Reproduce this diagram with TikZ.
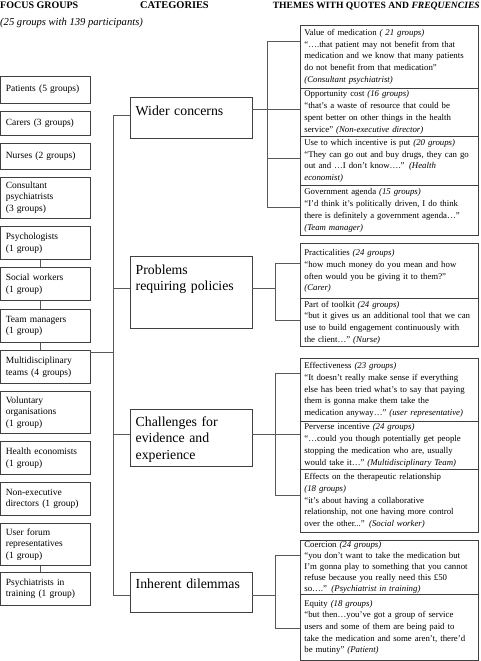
\documentclass[tikz,border=0pt]{standalone}
\usepackage{fontspec}
\setmainfont{Liberation Serif}
\usetikzlibrary{calc}

\tikzset{
  fgbox/.style={draw=black!75, line width=0.7pt, anchor=north west, text width=79pt,
    inner xsep=5pt, inner ysep=0pt, align=left, font=\fontsize{9.5}{11.7}\selectfont},
  catbox/.style={draw=black!75, line width=0.7pt, anchor=north west, text width=111pt,
    inner xsep=5.35pt, inner ysep=0pt, align=left, font=\fontsize{13.8}{16.7}\selectfont},
  themebox/.style={draw=black!75, line width=0.7pt, anchor=north west, text width=170pt,
    inner xsep=4pt, inner ysep=0pt, align=left, font=\fontsize{8.8}{11.7}\selectfont},
  link/.style={draw=black!65, line width=0.7pt},
  head/.style={anchor=base west, inner sep=0pt, font=\fontsize{10}{12}\selectfont\bfseries}
}

\begin{document}
\begin{tikzpicture}[x=1pt,y=-1pt]
\useasboundingbox (0,0) rectangle (480,661);

% headings
\node[head] (hfocus) at (0,8.5) {FOCUS GROUPS};
\node[head, font=\fontsize{10.6}{12}\selectfont\itshape] (hsub) at (0,25.5) {(25 groups with 139 participants)};
\node[head, font=\fontsize{10.4}{12}\selectfont\bfseries] (hcat) at (140,8.5) {CATEGORIES};
\node[head, anchor=base east, font=\fontsize{9.6}{12}\selectfont\bfseries] (htheme) at (480,8.5) {THEMES WITH QUOTES AND \textit{FREQUENCIES}};

% focus groups
\node[fgbox, minimum height=26.7] (pat) at (0.5,76) {Patients (5 groups)};
\node[fgbox, minimum height=24.3] (car) at (0.5,110.7) {Carers (3 groups)};
\node[fgbox, minimum height=25.7] (nur) at (0.5,143) {Nurses (2 groups)};
\node[fgbox, minimum height=41.3] (cons) at (0.5,176.7) {Consultant\\psychiatrists\\(3 groups)};
\node[fgbox, minimum height=33.3] (psy) at (0.5,226) {Psychologists\\(1 group)};
\node[fgbox, minimum height=32.7] (soc) at (0.5,267.3) {Social workers\\(1 group)};
\node[fgbox, minimum height=32.7] (team) at (0.5,309.3) {Team managers\\(1 group)};
\node[fgbox, minimum height=33.3] (multi) at (0.5,350) {Multidisciplinary\\teams (4 groups)};
\node[fgbox, minimum height=42] (vol) at (0.5,391.3) {Voluntary\\organisations\\(1 group)};
\node[fgbox, minimum height=32.7] (econ) at (0.5,441.3) {Health economists\\(1 group)};
\node[fgbox, minimum height=33.3] (nonex) at (0.5,482) {Non-executive\\directors (1 group)};
\node[fgbox, minimum height=42] (user) at (0.5,523.3) {User forum\\representatives\\(1 group)};
\node[fgbox, minimum height=32.7] (train) at (0.5,572) {Psychiatrists in\\training (1 group)};

% categories
\node[catbox, text height=18pt, text depth=23pt] (wider) at (130,97.3) {Wider concerns};
\node[catbox, text height=18pt, text depth=54.3pt] (probl) at (130,255.7) {Problems\\requiring policies};
\node[catbox, text height=16.5pt, text depth=40.2pt] (chall) at (130,409.3) {Challenges for\\evidence and\\experience};
\node[catbox, text height=16.5pt, text depth=24.1pt] (inher) at (130,571.7) {Inherent dilemmas};

% themes
\node[themebox, minimum height=63] (value) at (300,25) {Value of medication \textit{( 21 groups)}\\
  “….that patient may not benefit from that\\
  medication and we know that many patients\\
  do not benefit from that medication”\\
  \textit{(Consultant psychiatrist)}};
\node[themebox, minimum height=48] (opp) at (300,88) {Opportunity cost \textit{(16 groups)}\\
  “that’s a waste of resource that could be\\
  spent better on other things in the health\\
  service” \textit{(Non-executive director)}};
\node[themebox, minimum height=49] (use) at (300,136) {Use to which incentive is put \textit{(20 groups)}\\
  “They can go out and buy drugs, they can go\\
  out and …I don’t know….” \textit{(Health}\\
  \textit{economist)}};
\node[themebox, minimum height=50] (gov) at (300,185) {Government agenda \textit{(15 groups)}\\
  “I’d think it’s politically driven, I do think\\
  there is definitely a government agenda…”\\
  \textit{(Team manager)}};
\node[themebox, minimum height=55] (pract) at (300,243.3) {Practicalities \textit{(24 groups)}\\
  “how much money do you mean and how\\
  often would you be giving it to them?”\\
  \textit{(Carer)}};
\node[themebox, minimum height=48] (tool) at (300,298.3) {Part of toolkit \textit{(24 groups)}\\
  “but it gives us an additional tool that we can\\
  use to build engagement continuously with\\
  the client…” \textit{(Nurse)}};
\node[themebox, minimum height=63] (effect) at (300,358) {Effectiveness \textit{(23 groups)}\\
  “It doesn’t really make sense if everything\\
  else has been tried what’s to say that paying\\
  them is gonna make them take the\\
  medication anyway…” \textit{(user representative)}};
\node[themebox, minimum height=48] (perv) at (300,421) {Perverse incentive \textit{(24 groups)}\\
  “…could you though potentially get people\\
  stopping the medication who are, usually\\
  would take it…” \textit{(Multidisciplinary Team)}};
\node[themebox, minimum height=63] (therap) at (300,469) {Effects on the therapeutic relationship\\
  \textit{(18 groups)}\\
  “it’s about having a collaborative\\
  relationship, not one having more control\\
  over the other...” \textit{(Social worker)}};
\node[themebox, minimum height=54, font=\fontsize{8.8}{11}\selectfont] (coerc) at (300,540) {Coercion \textit{(24 groups)}\\
  “you don’t want to take the medication but\\
  I’m gonna play to something that you cannot\\
  refuse because you really need this £50\\
  so….” \textit{(Psychiatrist in training)}};
\node[themebox, minimum height=66] (equity) at (300,594) {Equity \textit{(18 groups)}\\
  “but then…you’ve got a group of service\\
  users and some of them are being paid to\\
  take the medication and some aren’t, there’d\\
  be mutiny” \textit{(Patient)}};

% focus group links
\coordinate (lc) at (40.7,0);
\draw[link] (psy.south -| lc) -- (soc.north -| lc);
\draw[link] (soc.south -| lc) -- (team.north -| lc);
\draw[link] (team.south -| lc) -- (multi.north -| lc);
\draw[link] (user.south -| lc) -- (train.north -| lc);

% trunk to categories
\coordinate (tw) at (113.3,115);
\coordinate (tp) at (113.3,288.3);
\coordinate (tc) at (113.3,434.3);
\coordinate (ti) at (113.3,595);
\coordinate (tm) at (113.3,352.3);
\draw[link] (tw) -- (ti);
\draw[link] (multi.east |- tm) -- (tm);
\draw[link] (tw) -- (tw -| wider.west);
\draw[link] (tp) -- (tp -| probl.west);
\draw[link] (tc) -- (tc -| chall.west);
\draw[link] (ti) -- (ti -| inher.west);

% wider concerns
\coordinate (w0) at (267,41.7);
\coordinate (w1) at (267,109.3);
\coordinate (w2) at (267,158.3);
\coordinate (w3) at (267,207.3);
\draw[link] (w0) -- (w3);
\draw[link] (w0) -- (w0 -| value.west);
\draw[link] (w1 -| wider.east) -- (w1 -| opp.west);
\draw[link] (w2) -- (w2 -| use.west);
\draw[link] (w3) -- (w3 -| gov.west);

% problems requiring policies
\coordinate (p1) at (275,263.3);
\coordinate (p2) at (275,288.3);
\coordinate (p3) at (275,320);
\draw[link] (p1) -- (p3);
\draw[link] (p1) -- (p1 -| pract.west);
\draw[link] (p3) -- (p3 -| tool.west);
\draw[link] (p2 -| probl.east) -- (p2);

% challenges
\coordinate (c1) at (275,373.3);
\coordinate (c2) at (275,434.3);
\coordinate (c3) at (275,495);
\draw[link] (c1) -- (c3);
\draw[link] (c1) -- (c1 -| effect.west);
\draw[link] (c3) -- (c3 -| therap.west);
\draw[link] (c2 -| chall.east) -- (c2 -| perv.west);

% inherent dilemmas
\coordinate (i1) at (275,555);
\coordinate (i2) at (275,595);
\coordinate (i3) at (275,628.3);
\draw[link] (i1) -- (i3);
\draw[link] (i1) -- (i1 -| coerc.west);
\draw[link] (i3) -- (i3 -| equity.west);
\draw[link] (i2 -| inher.east) -- (i2);
\end{tikzpicture}
\end{document}
